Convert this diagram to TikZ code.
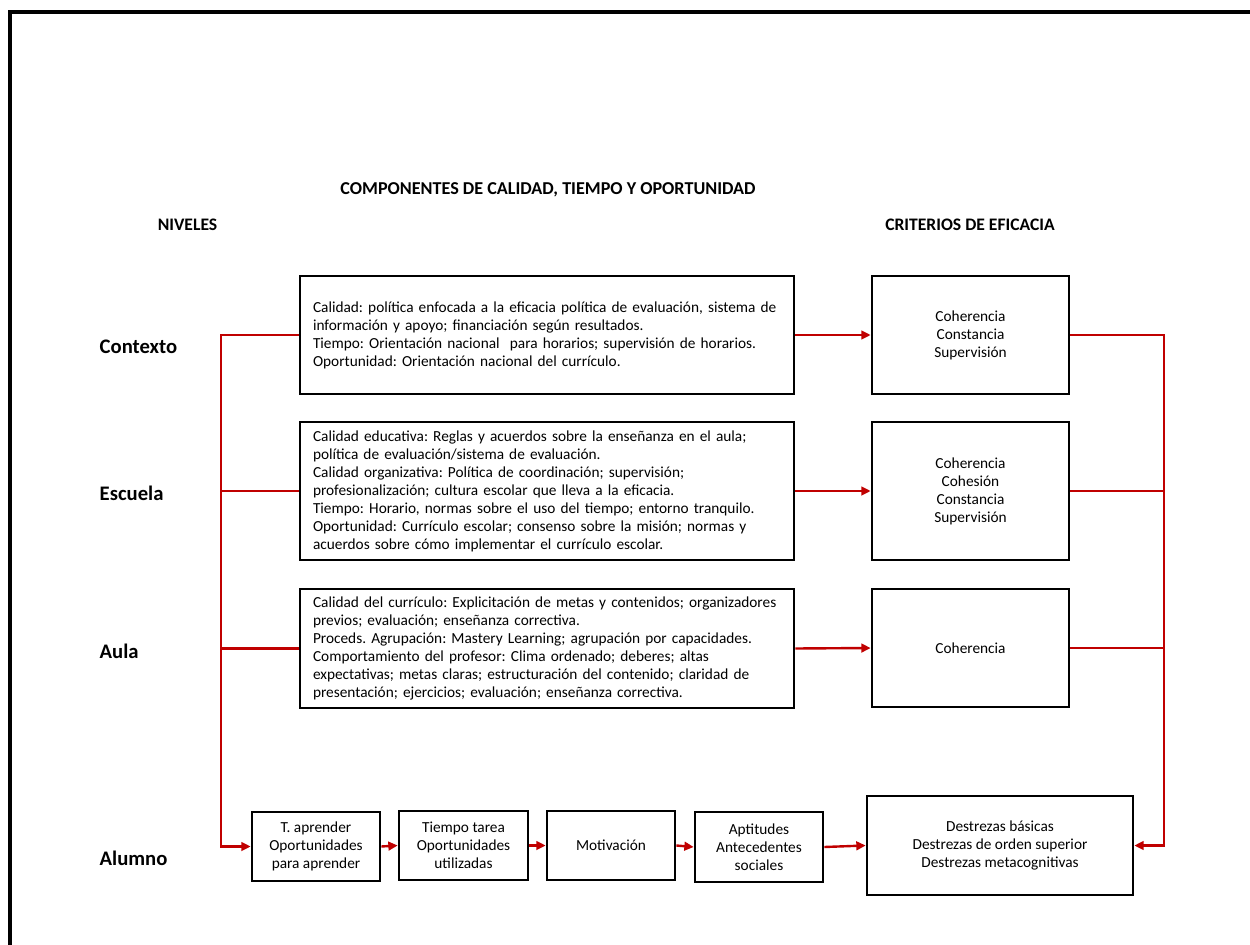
\documentclass[tikz,border=0pt]{standalone}
\usepackage{fontspec}
\setmainfont{Carlito}
\usetikzlibrary{arrows.meta}
\definecolor{wirered}{HTML}{C00000}
\frenchspacing
\begin{document}
\begin{tikzpicture}[x=0.75pt,y=-0.75pt,
  boxtext/.style={font=\fontsize{11.5}{13.5}\selectfont},
  widebox/.style={draw=black,line width=2pt,boxtext,align=left,
    text width=351pt,inner xsep=9.75pt,inner ysep=0pt,
    minimum width=370.5pt},
  critbox/.style={draw=black,line width=2pt,boxtext,align=center,
    minimum width=147.75pt,inner sep=0pt},
  smallbox/.style={draw=black,line width=2pt,boxtext,align=center,
    minimum width=96pt,minimum height=51.75pt,inner sep=0pt},
  heading/.style={font=\fontsize{13.2}{16}\selectfont\bfseries},
  level/.style={font=\fontsize{15.5}{18}\selectfont\bfseries,anchor=west},
  wire/.style={draw=wirered,line width=1.8pt},
  arr/.style={wire,-{Triangle[length=7pt,width=6.5pt]}}]
\useasboundingbox (0,0) rectangle (1250,945);

% outer frame
\draw[line width=3pt] (10,945) -- (10,12.3) -- (1250,12.3);

% headings
\node[heading,font=\fontsize{13.6}{16}\selectfont\bfseries] (title) at (548,190) {COMPONENTES DE CALIDAD, TIEMPO Y OPORTUNIDAD};
\node[heading] (niveles) at (187.5,225) {NIVELES};
\node[heading] (criterios) at (970,225) {CRITERIOS DE EFICACIA};

% levels
\node[level] (contexto) at (95,347) {Contexto};
\node[level] (escuela) at (95,493) {Escuela};
\node[level] (aula) at (95,651) {Aula};
\node[level] (alumno) at (95,858) {Alumno};

% component boxes
\node[widebox,minimum height=88.5pt] (C1) at (547,335) {Calidad: política enfocada a la eficacia política de evaluación, sistema de\\
información y apoyo; financiación según resultados.\\
Tiempo: Orientación nacional\ \ para horarios; supervisión de horarios.\\
Oportunidad: Orientación nacional del currículo.};

\node[widebox,minimum height=103.5pt] (C2) at (547,491) {Calidad educativa: Reglas y acuerdos sobre la enseñanza en el aula;\\
política de evaluación/sistema de evaluación.\\
Calidad organizativa: Política de coordinación; supervisión;\\
profesionalización; cultura escolar que lleva a la eficacia.\\
Tiempo: Horario, normas sobre el uso del tiempo; entorno tranquilo.\\
Oportunidad: Currículo escolar; consenso sobre la misión; normas y\\
acuerdos sobre cómo implementar el currículo escolar.};

\node[widebox,minimum height=89.25pt] (C3) at (547,648.5) {Calidad del currículo: Explicitación de metas y contenidos; organizadores\\
previos; evaluación; enseñanza correctiva.\\
Proceds. Agrupación: Mastery Learning; agrupación por capacidades.\\
Comportamiento del profesor: Clima ordenado; deberes; altas\\
expectativas; metas claras; estructuración del contenido; claridad de\\
presentación; ejercicios; evaluación; enseñanza correctiva.};

% criteria boxes
\node[critbox,minimum height=88.5pt] (R1) at (970.5,335) {Coherencia\\Constancia\\Supervisión};
\node[critbox,minimum height=103.5pt] (R2) at (970.5,491) {Coherencia\\Cohesión\\Constancia\\Supervisión};
\node[critbox,minimum height=88.5pt] (R3) at (970.5,648) {Coherencia};

% pupil level chain
\node[smallbox] (B1) at (316,846.5) {T. aprender\\Oportunidades\\para aprender};
\node[smallbox,minimum width=96.75pt] (B2) at (463.5,845.5) {Tiempo tarea\\Oportunidades\\utilizadas};
\node[smallbox] (B3) at (611,845.5) {Motivación};
\node[smallbox,minimum height=52.5pt] (B4) at (759,847) {Aptitudes\\Antecedentes\\sociales};
\node[smallbox,minimum width=199.5pt,minimum height=74.25pt] (B5) at (1000,845.5) {Destrezas básicas\\Destrezas de orden superior\\Destrezas metacognitivas};

% bus lines
\coordinate (lx) at (221,0);
\coordinate (rx) at (1164,0);

\draw[arr] (C1.west) -| (lx |- B1.west) -- (B1.west);
\draw[wire] (C2.west) -- (C2.west -| lx);
\draw[wire] (C3.west) -- (C3.west -| lx);

\draw[arr] (R1.east) -| (rx |- B5.east) -- (B5.east);
\draw[wire] (R2.east) -- (R2.east -| rx);
\draw[wire] (R3.east) -- (R3.east -| rx);

% component to criterion
\draw[arr] (C1.east) -- (R1.west);
\draw[arr] (C2.east) -- (R2.west);
\draw[arr] (C3.east) -- (R3.west);

% chain arrows
\draw[arr] (B1.east) -- (B2.west);
\draw[arr] (B2.east) -- (B3.west);
\draw[arr] (B3.east) -- (B4.west);
\draw[arr] (B4.east) -- (B5.west);
\end{tikzpicture}
\end{document}
